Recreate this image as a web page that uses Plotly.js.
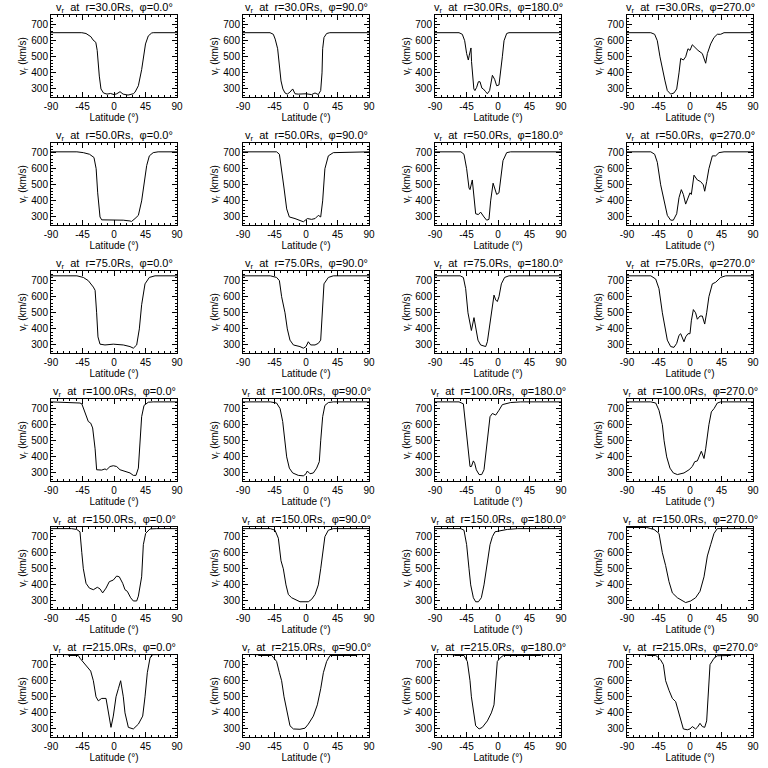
<!DOCTYPE html>
<html><head><meta charset="utf-8">
<script src="https://cdn.plot.ly/plotly-3.0.1.min.js"></script>
<style>html,body{margin:0;padding:0;background:#fff}#chart{width:768px;height:768px}</style>
</head><body><div id="chart"></div>
<script>
// r = 30 Rs
const lat_30_0 = [-90,-46,-40,-33,-30,-26,-24,-22.5,-21,-18.6,-15,-10,-5,0,4,8.6,13,20,27.6,30,34.8,39.5,42,45,49,53.8,56,90];
const v_30_0   = [650,650,645,625,605,590,540,450,380,300,275,268,272,265,270,283,268,262,270,280,320,420,500,580,630,648,650,650];
const lat_30_90 = [-90,-51.4,-46.7,-44,-40.5,-38,-35.7,-33,-30,-26.7,-23,-19,-15.7,-11,0,8,12.9,17.6,21,22.9,23.8,25.7,29.5,34,90];
const v_30_90   = [650,650,640,610,550,450,350,300,275,268,280,300,270,268,270,265,275,265,290,400,550,620,645,650,650];
const lat_30_180 = [-90,-55.7,-51,-47.6,-44.8,-42.4,-41,-38.6,-37.8,-34.5,-33,-30.5,-28,-25.7,-23,-21,-18,-15.2,-12,-8,-4.8,-1.9,1.4,3.8,6.2,8.6,12.4,15.7,90];
const v_30_180   = [650,650,640,600,520,480,510,555,470,300,290,310,345,345,305,300,285,270,290,385,360,320,325,400,500,600,645,650,650];
const lat_30_270 = [-90,-56,-50.5,-46.7,-42.9,-39.5,-35.7,-32.4,-27.6,-22.9,-19,-15.7,-13.3,-9.5,-6.2,-2.9,0,3.3,6.7,11.4,17.6,22.4,24.8,29.5,34.3,39,43.8,48.6,90];
const v_30_270   = [650,650,640,600,500,420,350,290,268,275,300,400,490,480,500,550,540,575,560,540,520,460,520,580,620,640,640,650,650];
// r = 50 Rs
const lat_50_0 = [-90,-53,-43.8,-35,-28.6,-25.5,-23.3,-20,-17.6,-1,13.3,22.9,25,30,34.8,39.5,42.9,46.7,50.5,56,63,90];
const v_50_0   = [705,705,700,690,670,600,450,300,282,282,280,275,272,290,310,400,500,620,680,700,705,705];
const lat_50_90 = [-90,-42,-38,-34.8,-31.4,-27.6,-23.8,-15.7,-8.6,-3.8,2,8,13,17.6,21,23.8,27,31.9,39,90];
const v_50_90   = [705,705,690,600,480,350,300,290,280,270,290,285,290,310,300,400,600,680,700,705];
const lat_50_180 = [-90,-53,-48.6,-44.8,-41.4,-40,-36.7,-35,-31.9,-28,-24.8,-20,-16.2,-12.9,-10.5,-7,-4.3,-1.9,1.4,3.8,7.1,12.4,18,90];
const v_50_180   = [705,705,690,600,480,470,530,450,320,315,330,300,280,285,400,510,470,440,450,550,650,700,705,705];
const lat_50_270 = [-90,-56,-50.5,-46.7,-41.9,-37.1,-32.4,-27.6,-23.8,-19,-15.7,-12.4,-9.5,-6.2,-2.9,0,1.9,3.3,5.7,10.5,15.2,19,21,23.8,27,31.9,36.7,41.4,48.6,90];
const v_50_270   = [705,705,690,640,500,400,310,280,280,320,420,470,440,380,420,450,440,500,560,530,520,500,460,520,600,680,680,700,705,705];
// r = 75 Rs
const lat_75_0 = [-90,-53,-43.8,-36.7,-29.5,-27,-24.8,-22.9,-20,-12.9,-1,13.3,22.9,27.6,32.4,36.2,39.5,44.3,50.5,58.6,90];
const v_75_0   = [730,730,720,700,660,640,500,350,305,300,305,300,290,280,300,400,550,680,720,730,730];
const lat_75_90 = [-90,-51,-42,-38,-34.8,-30,-26.7,-22.9,-18,-8.6,-3.8,0,3.3,6.7,12.9,17.6,21,22.9,25.7,31.9,39,90];
const v_75_90   = [730,730,720,700,600,500,400,330,300,290,280,290,320,300,300,310,330,500,680,720,730,730];
const lat_75_180 = [-90,-54,-49.5,-46.2,-42.9,-40,-38,-34.3,-31.9,-28.6,-24.8,-20,-17.6,-15.2,-10.5,-7,-5.7,-3.3,-1,1.4,4.8,9.5,15.7,90];
const v_75_180   = [730,730,720,650,500,430,390,470,400,330,300,295,290,320,450,550,610,580,570,600,680,720,730,730];
const lat_75_270 = [-90,-56,-49,-44.3,-39.5,-35.7,-32.4,-27.6,-22.9,-19,-15.7,-13.3,-11,-8.6,-6.2,-2.9,0,1.9,4.8,8,10.5,14.3,17.6,21,23.8,27,31.9,36.7,43.8,51,90];
const v_75_270   = [730,730,710,650,500,400,330,290,285,310,360,370,340,320,350,370,370,450,520,500,460,480,480,430,500,600,680,690,720,730,730];
// r = 100 Rs
const lat_100_0 = [-90,-60,-48.6,-46,-41.4,-36.7,-33.3,-30.5,-27,-24.8,-17.6,-12.9,-10.5,-5.7,-1,3.8,8.6,15.7,22.9,27.6,31.4,34.8,37.1,39.5,42.9,49,56,90];
const v_100_0   = [742,740,735,730,680,620,610,580,450,320,318,325,320,340,345,340,320,310,300,285,285,330,500,650,720,740,742,742];
const lat_100_90 = [-90,-51,-42,-37,-33.3,-30,-27.6,-23.8,-19,-11,-3.8,0,1.9,5.7,10.5,15.2,19,21,23.8,27,31.9,39,90];
const v_100_90   = [742,742,735,700,620,500,400,330,300,285,282,295,312,295,300,330,370,500,650,720,738,742,742];
const lat_100_180 = [-90,-55.7,-49.5,-47.6,-44.8,-42.4,-40,-38,-35.2,-33.3,-31,-27,-23.3,-20,-15.2,-11.4,-8,-3.3,1.4,6.2,18,32.4,90];
const v_100_180   = [742,742,730,650,500,400,340,340,375,360,320,290,290,320,500,650,670,660,690,725,738,742,742];
const lat_100_270 = [-90,-56,-49,-44.3,-39.5,-37,-33.3,-28.6,-23.8,-18,-8.6,-1.4,3.3,6.7,10.5,12.9,16.2,20,22.4,27,30.5,34.3,39,43.8,90];
const v_100_270   = [742,742,735,690,600,500,400,330,300,290,300,320,340,370,375,400,435,390,450,600,680,700,735,742,742];
// r = 150 Rs
const lat_150_0 = [-90,-60.5,-53.3,-48.6,-46,-43.8,-40,-35.2,-29.5,-23.8,-20,-16.2,-11.4,-6.7,-1,3.8,7.6,12.4,15.7,19,23.8,27.6,32.4,34.8,39.5,41.9,45.2,51.4,61,90];
const v_150_0   = [750,750,745,730,600,500,410,380,370,385,375,350,380,420,430,455,450,410,370,360,320,300,300,330,450,650,720,748,750,750];
const lat_150_90 = [-90,-51,-44.3,-39.5,-35.7,-32.4,-28.6,-25.2,-20.5,-15.7,-8.6,3.3,8,12.9,17.6,21,23.8,27,31.9,39,90];
const v_150_90   = [750,750,740,690,550,500,400,340,320,310,295,295,310,340,400,500,600,700,740,750,750];
const lat_150_180 = [-90,-53,-48.6,-44.8,-41.4,-39,-35.2,-31.9,-28,-23.8,-20,-15.2,-11.4,-8,-4.3,1.4,13.3,27.6,90];
const v_150_180   = [750,750,740,650,500,400,320,295,295,320,400,550,650,700,730,735,745,750,750];
const lat_150_270 = [-90,-62,-56,-51.4,-44.3,-39.5,-34.8,-30,-25.2,-18,-6.2,1,8,14.3,20,24.8,29.5,34.3,39,90];
const v_150_270   = [757,757,750,745,720,600,520,420,350,320,290,300,320,360,450,580,650,720,750,750];
// r = 215 Rs
const lat_215_0 = [-90,-66,-65,-51,-48.6,-41.4,-33.3,-29.5,-25.7,-22.4,-17.6,-11.4,-8,-4.3,-1,2.9,6.2,9.5,13.3,15.7,20.5,27.6,34.8,41,44.3,47.6,51.4,53.8,56,90];
const v_215_0   = [765,762,757,757,740,700,660,600,500,475,490,490,400,310,380,500,550,600,500,400,310,300,330,380,500,650,740,758,762,765];
const lat_215_90 = [-90,-69,-68,-49,-46.7,-42,-38,-34.8,-31.4,-26.7,-22.9,-18,-8.6,-1.4,3.3,10.5,16.2,21,24.8,29.5,34.3,72,73,90];
const v_215_90   = [765,762,757,757,745,720,650,600,500,400,320,300,298,305,330,380,450,550,650,720,757,757,762,765];
const lat_215_180 = [-90,-63,-62,-48.6,-43.8,-40,-38,-35.2,-31.9,-27,-22.4,-15.2,-9.5,-5.7,-3.3,-1,3.8,7.6,61,62,90];
const v_215_180   = [765,762,757,757,720,600,500,400,320,300,310,350,400,450,600,720,745,757,757,762,765];
const lat_215_270 = [-90,-62,-61,-49,-46.7,-42,-38,-34.8,-30,-25.2,-20.5,-17.1,-13.3,-9.5,-3.8,0,3.3,8,10.5,14.3,17.6,21,23.8,25.7,28.6,34.3,39,58,59,90];
const v_215_270   = [765,762,757,757,750,730,700,600,540,490,470,420,350,300,295,300,315,300,310,335,315,310,350,500,700,740,755,757,762,765];

const radiusLabels = ['30.0','50.0','75.0','100.0','150.0','215.0'];
const phiLabels = ['0.0','90.0','180.0','270.0'];
const xTicks = [-90,-45,0,45,90];
const yTicks = [300,400,500,600,700];

const panels = [
  [lat_30_0,v_30_0],[lat_30_90,v_30_90],[lat_30_180,v_30_180],[lat_30_270,v_30_270],
  [lat_50_0,v_50_0],[lat_50_90,v_50_90],[lat_50_180,v_50_180],[lat_50_270,v_50_270],
  [lat_75_0,v_75_0],[lat_75_90,v_75_90],[lat_75_180,v_75_180],[lat_75_270,v_75_270],
  [lat_100_0,v_100_0],[lat_100_90,v_100_90],[lat_100_180,v_100_180],[lat_100_270,v_100_270],
  [lat_150_0,v_150_0],[lat_150_90,v_150_90],[lat_150_180,v_150_180],[lat_150_270,v_150_270],
  [lat_215_0,v_215_0],[lat_215_90,v_215_90],[lat_215_180,v_215_180],[lat_215_270,v_215_270]
];

const FONT = 'Liberation Sans, Arial, sans-serif';
const traces = [];
const annotations = [];
const layout = {
  width: 768, height: 768,
  margin: {l:0, r:0, t:0, b:0},
  paper_bgcolor: '#fff', plot_bgcolor: '#fff',
  showlegend: false,
  font: {family: FONT, color: '#000', size: 10}
};

panels.forEach((p, i) => {
  const r = Math.floor(i / 4), c = i % 4;
  const k = i + 1, suf = k === 1 ? '' : String(k);
  traces.push({x: p[0], y: p[1], xaxis: 'x' + suf, yaxis: 'y' + suf, type: 'scatter', mode: 'lines',
    line: {color: '#000', width: 1}, hoverinfo: 'skip'});
  const x0 = 51 + 192 * c, x1 = 177 + 192 * c;
  const top = 15 + 128 * r, bot = 97 + 128 * r;
  layout['xaxis' + suf] = {
    domain: [x0 / 768, x1 / 768], anchor: 'y' + suf, range: [-90, 90],
    tickmode: 'array', tickvals: xTicks, ticktext: xTicks.map(String),
    ticks: 'inside', ticklen: 5, tickcolor: '#000', mirror: 'ticks',
    showline: true, linecolor: '#000', linewidth: 1, showgrid: false, zeroline: false,
    minor: {ticks: 'inside', ticklen: 2, tickcolor: '#000', tickmode: 'linear', tick0: -90, dtick: 9},
    tickfont: {size: 10, family: FONT},
    title: {text: 'Latitude (°)', font: {size: 10, family: FONT}, standoff: 1},
    automargin: false, fixedrange: true
  };
  layout['yaxis' + suf] = {
    domain: [1 - bot / 768, 1 - top / 768], anchor: 'x' + suf, range: [250, 760],
    tickmode: 'array', tickvals: yTicks, ticktext: yTicks.map(String),
    ticks: 'inside', ticklen: 5, tickcolor: '#000', mirror: 'ticks',
    showline: true, linecolor: '#000', linewidth: 1, showgrid: false, zeroline: false,
    minor: {ticks: 'inside', ticklen: 2, tickcolor: '#000', tickmode: 'linear', tick0: 0, dtick: 20},
    tickfont: {size: 10, family: FONT},
    title: {text: 'v<sub>r</sub> (km/s)', font: {size: 10, family: FONT}, standoff: 2},
    automargin: false, fixedrange: true
  };
  annotations.push({
    xref: 'paper', yref: 'paper', x: (x0 + x1) / 2 / 768, y: 1 - (8 + 128 * r) / 768,
    xanchor: 'center', yanchor: 'middle', showarrow: false,
    text: 'v<sub>r</sub>  at  r=' + radiusLabels[r] + 'Rs,  φ=' + phiLabels[c] + '°',
    font: {size: 11, family: FONT, color: '#000'}
  });
});
layout.annotations = annotations;

Plotly.newPlot('chart', traces, layout, {staticPlot: true, displayModeBar: false});
</script>
</body></html>
